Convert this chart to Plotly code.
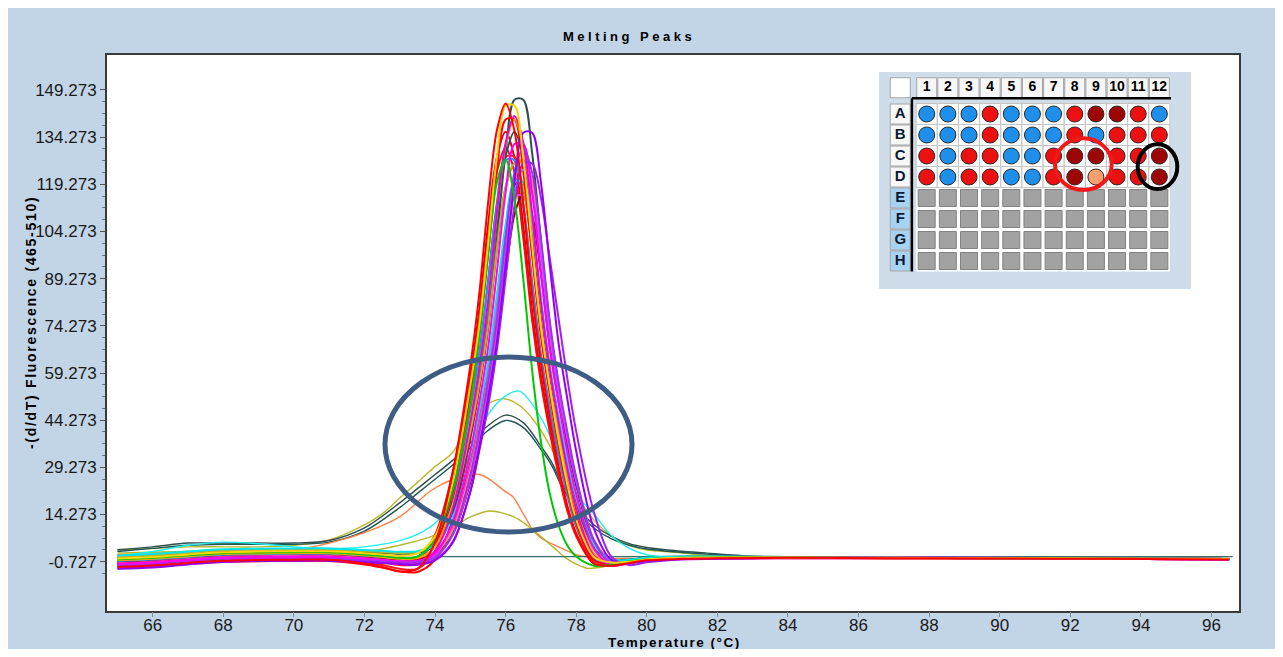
import plotly.graph_objects as go

# ---------------------------------------------------------------- data
TEMP_GRID = [65, 66, 67, 68, 69, 70, 71, 72, 72.5, 73, 73.5, 74, 74.5, 75, 75.25, 75.5,
             75.75, 76, 76.25, 76.5, 76.75, 77, 77.25, 77.5, 77.75, 78, 78.5, 79, 79.5,
             80, 81, 82, 84, 87, 90, 93, 96.5]

red_1 = [-2.4, -1.9, -1.1, -0.4, -0.2, -0.1, -0.1, -1.3, -2.4, -3.8, -3.0, 5.4, 27.6, 61.7, 84.1, 113.1, 136.3, 145.0, 136.3, 113.1, 84.1, 62.4, 45.0, 29.7, 17.1, 8.3, -1.3, -2.0, -1.1, -0.3, 0.2, 0.4, 0.5, 0.4, 0.3, 0.2, 0.0]
red_2 = [-1.5, -1.0, -0.2, 0.5, 0.7, 0.8, 0.8, -0.1, -0.9, -1.8, -1.4, 4.4, 21.8, 52.4, 71.0, 96.6, 123.5, 139.9, 139.9, 123.5, 96.6, 71.0, 52.5, 36.2, 22.4, 11.8, -0.2, -1.7, -1.0, -0.3, 0.3, 0.5, 0.6, 0.5, 0.4, 0.3, 0.1]
red_3 = [-0.8, -0.3, 0.5, 1.2, 1.4, 1.5, 1.5, 0.7, 0.1, -0.7, 0.5, 7.8, 27.7, 58.5, 78.9, 106.1, 127.8, 136.0, 127.8, 106.1, 78.9, 58.5, 42.2, 27.9, 16.0, 7.7, -1.2, -1.9, -1.0, -0.3, 0.4, 0.6, 0.7, 0.5, 0.4, 0.3, 0.1]
red_4 = [-2.0, -1.5, -0.7, 0.0, 0.2, 0.3, 0.3, -0.8, -1.8, -3.0, -3.0, 2.7, 19.2, 47.7, 65.0, 88.4, 113.1, 128.0, 128.0, 113.1, 88.4, 65.0, 48.1, 33.2, 20.4, 10.5, -0.9, -2.1, -1.2, -0.35, 0.2, 0.4, 0.5, 0.4, 0.3, 0.2, 0.0]
red_5 = [-2.0, -1.6, -1.2, -0.8, -0.6, -0.5, -0.5, -1.6, -2.6, -3.8, -4.0, -0.1, 12.9, 38.3, 53.9, 72.9, 98.2, 118.3, 125.9, 118.3, 98.2, 73.0, 54.1, 39.0, 25.4, 13.9, 0.3, -1.8, -1.2, -0.35, 0.2, 0.3, 0.4, 0.4, 0.3, 0.2, 0.0]
red_6 = [-1.0, -0.5, 0.3, 1.0, 1.2, 1.3, 1.3, 0.4, -0.35, -1.25, -0.3, 7.1, 26.6, 56.1, 76.0, 102.2, 123.1, 131.0, 123.1, 102.2, 76.0, 56.3, 40.6, 26.9, 15.4, 7.4, -1.3, -1.9, -1.0, -0.3, 0.3, 0.5, 0.6, 0.5, 0.4, 0.3, 0.1]
darkred_1 = [-1.0, -0.5, 0.3, 1.0, 1.2, 1.3, 1.3, 0.7, 0.3, -0.1, 0.0, 2.1, 11.1, 30.9, 44.8, 60.5, 82.3, 105.3, 119.2, 119.2, 105.3, 82.3, 60.5, 44.8, 30.9, 18.9, 3.4, -1.4, -1.1, -0.4, 0.3, 0.5, 0.6, 0.5, 0.4, 0.3, 0.1]
maroon_1 = [-0.8, -0.3, 0.5, 1.2, 1.4, 1.5, 1.5, 1.0, 0.75, 0.45, 0.4, 1.7, 8.0, 24.5, 36.7, 50.6, 68.0, 91.2, 109.6, 116.6, 109.5, 91.0, 67.8, 50.3, 36.4, 23.6, 5.8, -0.8, -0.75, -0.2, 0.4, 0.5, 0.6, 0.5, 0.4, 0.3, 0.1]
teal_1 = [0.5, 1.0, 1.8, 2.5, 2.7, 2.8, 2.8, 2.3, 2.05, 1.75, 2.0, 4.4, 15.0, 39.5, 56.2, 75.2, 101.6, 129.4, 146.2, 146.2, 129.3, 101.3, 74.7, 55.5, 38.5, 24.0, 5.8, 0.0, -0.1, 0.5, 0.8, 0.8, 0.7, 0.6, 0.5, 0.3, 0.1]
slate_1 = [1.0, 1.5, 2.3, 3.0, 3.2, 3.3, 3.3, 2.7, 2.3, 1.9, 2.2, 5.6, 18.2, 43.9, 60.0, 80.0, 106.7, 128.1, 136.0, 127.9, 106.3, 79.4, 59.2, 43.0, 28.9, 17.0, 3.5, -0.3, -0.2, 0.5, 0.9, 0.9, 0.8, 0.6, 0.5, 0.3, 0.1]
gold_1 = [0.3, 0.8, 1.6, 2.3, 2.5, 2.6, 2.6, 2.0, 1.6, 1.2, 1.9, 7.4, 24.6, 55.4, 74.2, 100.2, 127.8, 144.3, 144.3, 127.6, 99.9, 73.7, 54.8, 38.0, 23.8, 12.7, 0.8, -1.0, -0.7, 0.0, 0.5, 0.6, 0.6, 0.5, 0.4, 0.3, 0.1]
orange_1 = [-0.3, 0.2, 1.0, 1.7, 1.9, 2.0, 2.0, 1.3, 0.8, 0.2, 0.4, 4.1, 17.3, 44.1, 60.9, 81.6, 109.4, 131.6, 139.9, 131.5, 109.1, 81.2, 60.3, 43.5, 28.6, 16.1, 1.9, -1.0, -0.8, -0.1, 0.4, 0.5, 0.5, 0.4, 0.3, 0.2, 0.0]
purple_1 = [-3.0, -2.6, -1.6, -0.8, -0.5, -0.4, -0.4, -0.9, -1.15, -1.45, -1.7, -0.3, 5.3, 21.6, 34.9, 50.9, 68.8, 93.6, 119.9, 135.7, 135.7, 119.9, 93.6, 68.8, 50.9, 34.4, 9.9, -0.2, -0.9, -0.5, 0.1, 0.4, 0.6, 0.6, 0.5, 0.3, 0.1]
purple_2 = [-2.2, -1.7, -0.9, -0.2, 0.0, 0.1, 0.1, -0.4, -0.65, -0.95, -0.8, 0.7, 8.0, 26.8, 40.5, 56.2, 75.9, 102.1, 123.0, 130.9, 123.0, 102.1, 75.9, 56.2, 40.5, 26.2, 6.0, -1.3, -1.1, -0.45, 0.1, 0.3, 0.5, 0.5, 0.4, 0.2, 0.0]
purple_3 = [-2.8, -2.3, -1.4, -0.6, -0.3, -0.2, -0.2, -0.7, -0.95, -1.25, -1.5, 0.0, 5.6, 21.5, 34.4, 48.4, 66.4, 89.4, 112.4, 125.9, 125.9, 115.0, 95.8, 76.6, 57.4, 40.7, 15.1, 0.8, -1.8, -0.9, 0.0, 0.2, 0.5, 0.6, 0.5, 0.3, 0.1]
violet_1 = [-1.9, -1.4, -0.6, 0.1, 0.3, 0.4, 0.4, -0.1, -0.35, -0.65, -0.5, 0.9, 7.8, 25.4, 38.4, 53.3, 71.9, 96.7, 116.6, 124.0, 116.6, 96.7, 71.9, 53.3, 38.4, 24.9, 6.1, -0.9, -0.85, -0.35, 0.2, 0.4, 0.5, 0.5, 0.4, 0.2, 0.0]
magenta_1 = [-1.5, -1.0, -0.2, 0.5, 0.7, 0.8, 0.8, 0.2, -0.2, -0.6, -0.5, 1.9, 11.8, 34.3, 49.7, 67.1, 91.2, 116.7, 132.1, 132.1, 116.7, 91.2, 67.1, 49.7, 34.2, 20.8, 3.6, -1.8, -1.2, -0.45, 0.2, 0.4, 0.5, 0.5, 0.4, 0.2, 0.0]
magenta_2 = [-2.0, -1.5, -0.7, 0.0, 0.2, 0.3, 0.3, -0.4, -0.9, -1.5, -1.2, 2.6, 16.1, 43.5, 60.6, 81.8, 110.0, 132.5, 141.0, 132.5, 110.0, 81.8, 60.6, 43.7, 28.6, 15.9, 1.2, -1.5, -1.05, -0.3, 0.2, 0.3, 0.4, 0.4, 0.3, 0.2, 0.0]
pink_1 = [-1.2, -0.7, 0.1, 0.8, 1.0, 1.1, 1.1, 0.4, -0.1, -0.7, -0.7, 1.4, 10.3, 30.1, 43.6, 58.8, 79.9, 102.1, 115.5, 115.4, 102.0, 79.8, 58.7, 43.5, 30.0, 18.4, 3.4, -1.3, -1.0, -0.35, 0.3, 0.4, 0.5, 0.5, 0.4, 0.2, 0.0]
blue_1 = [-0.5, 0.0, 0.8, 1.5, 1.7, 1.8, 1.8, 1.2, 0.8, 0.4, 0.9, 5.9, 21.1, 48.3, 64.9, 87.9, 112.3, 127.0, 127.0, 112.2, 87.7, 64.6, 47.9, 33.0, 20.6, 10.9, 0.3, -1.3, -0.85, -0.2, 0.4, 0.6, 0.6, 0.5, 0.4, 0.3, 0.1]
green_1 = [0.0, 0.5, 1.3, 2.0, 2.2, 2.3, 2.3, 1.6, 1.1, 0.5, 0.9, 6.5, 22.3, 49.2, 70.6, 97.0, 119.8, 127.2, 114.6, 89.2, 60.2, 37.5, 21.0, 10.8, 4.4, 0.9, -2.0, -1.6, -0.6, 0.0, 0.5, 0.6, 0.6, 0.5, 0.4, 0.3, 0.1]
cyan_1 = [1.2, 1.7, 2.5, 3.2, 3.4, 3.5, 3.5, 3.0, 2.75, 2.45, 2.6, 4.6, 13.3, 33.3, 46.9, 62.3, 83.8, 106.5, 120.1, 120.0, 106.1, 83.2, 61.5, 45.8, 31.9, 20.0, 4.8, -0.1, -0.1, 0.5, 0.9, 0.9, 0.8, 0.6, 0.5, 0.3, 0.1]
salmon_1 = [-0.2, 0.3, 1.1, 1.8, 2.0, 2.1, 2.1, 1.5, 1.1, 0.7, 0.7, 2.2, 9.3, 27.3, 40.7, 55.8, 74.8, 100.1, 120.3, 127.8, 120.1, 99.7, 74.2, 55.0, 39.7, 25.7, 6.4, -0.7, -0.8, -0.2, 0.4, 0.5, 0.6, 0.5, 0.4, 0.3, 0.1]
olive_1 = [0.8, 1.3, 2.1, 2.8, 3.0, 3.1, 3.1, 2.6, 2.35, 2.05, 2.4, 5.5, 17.0, 40.7, 55.5, 74.0, 98.7, 118.5, 125.8, 118.3, 98.3, 73.4, 54.7, 39.7, 26.6, 15.6, 3.0, -0.5, -0.3, 0.4, 0.8, 0.8, 0.7, 0.6, 0.5, 0.3, 0.1]

# low-amplitude wells (each sampled at its own temperatures)
cyan_low_t = [65, 66, 67, 68, 69, 70, 71, 72, 73, 73.5, 74, 74.5, 75, 75.5, 76, 76.4, 77, 77.5, 77.75, 78, 78.5, 79, 79.5, 80, 81, 82, 84, 88, 94.7]
cyan_low = [1.0, 2.5, 4.5, 5.5, 5.0, 4.0, 3.5, 4.0, 6.0, 8.0, 11.5, 19.0, 34.0, 46.0, 52.0, 53.5, 45.0, 33.0, 26.0, 20.5, 14.5, 7.5, 3.5, 1.5, 0.6, 0.5, 0.5, 0.4, 0.3]
olive_low_t = [65, 66, 67, 68, 69, 70, 71, 72, 72.5, 73, 73.5, 74, 74.5, 75, 75.5, 76, 76.5, 77, 77.5, 78, 78.5, 79, 79.5, 80, 80.5, 81, 82, 84, 90, 96.5]
olive_low = [3.0, 3.5, 4.0, 4.0, 4.0, 4.5, 6.2, 11.0, 14.5, 19.5, 24.5, 29.5, 34.0, 44.0, 49.5, 51.0, 48.0, 41.0, 31.0, 20.5, 12.5, 7.5, 4.5, 3.0, 2.5, 2.0, 1.0, 0.5, 0.3, 0.2]
teal_low_t = [65, 66, 67, 68, 69, 70, 71, 72, 73, 73.5, 74, 74.5, 75, 75.5, 76, 76.5, 77, 77.3, 77.6, 78, 78.5, 79, 79.5, 80, 80.6, 81.7, 83, 85, 96.5]
teal_low_a = [3.1, 4.0, 5.2, 5.2, 5.2, 5.2, 6.0, 10.0, 18.0, 22.5, 27.0, 31.5, 37.0, 42.5, 45.9, 43.5, 36.0, 31.0, 24.0, 17.0, 11.0, 7.3, 5.0, 3.8, 3.0, 2.0, 1.0, 0.5, 0.3]
teal_low_b = [2.5, 3.5, 4.5, 4.8, 4.8, 4.8, 5.5, 9.0, 16.5, 21.0, 25.5, 30.0, 35.5, 41.0, 44.2, 42.0, 35.0, 30.0, 23.0, 16.0, 10.0, 6.5, 4.5, 3.3, 2.6, 1.7, 0.8, 0.4, 0.2]
orange_low_t = [65, 66, 67, 68, 69, 70, 71, 72, 73, 73.9, 74.5, 75, 75.25, 75.5, 76, 76.2, 76.5, 76.77, 77, 77.5, 78, 78.5, 79, 80, 82, 90, 95.4]
orange_low = [1.5, 2.0, 2.5, 2.5, 2.5, 3.0, 5.2, 8.5, 13.6, 22.0, 25.5, 27.0, 27.0, 25.8, 21.5, 20.0, 14.5, 9.4, 6.8, 4.0, 1.5, 0.5, 0.3, 0.3, 0.4, 0.4, 0.3]
smallolive_low_t = [65, 67, 69, 71, 72, 73, 73.9, 74.67, 75, 75.53, 76, 76.39, 76.77, 77.34, 77.7, 78, 78.3, 78.7, 79.2, 80, 82, 96.5]
smallolive_low = [2.0, 2.5, 2.5, 2.0, 2.5, 4.5, 7.3, 11.5, 13.5, 15.4, 14.5, 12.6, 9.4, 4.0, 0.5, -1.5, -2.8, -2.5, -1.0, 0.2, 0.4, 0.2]
flat_t = [73.9, 96.6]
flat_v = [0.9, 0.9]

# axis ticks
X_TICKS = [66, 68, 70, 72, 74, 76, 78, 80, 82, 84, 86, 88, 90, 92, 94, 96]
Y_TICKS = [-0.727, 14.273, 29.273, 44.273, 59.273, 74.273, 89.273, 104.273, 119.273, 134.273, 149.273]

# 96-well plate status (rows A-D used; E-H empty)
PLATE_COLS = ["1", "2", "3", "4", "5", "6", "7", "8", "9", "10", "11", "12"]
PLATE_ROWS = ["A", "B", "C", "D", "E", "F", "G", "H"]
ROW_A = ["b", "b", "b", "r", "b", "b", "b", "r", "d", "d", "r", "b"]
ROW_B = ["b", "b", "b", "r", "b", "b", "b", "r", "b", "r", "r", "r"]
ROW_C = ["r", "b", "r", "r", "b", "b", "r", "d", "d", "r", "r", "d"]
ROW_D = ["r", "b", "r", "r", "b", "b", "r", "d", "o", "r", "r", "d"]
WELL_COLORS = {"b": "#1E8FEA", "r": "#EC1010", "d": "#9E0606", "o": "#F5A06E"}

# ---------------------------------------------------------------- geometry
FIG_W, FIG_H = 1267, 641
BODY = 8
PLOT_L, PLOT_R, PLOT_T, PLOT_B = 107, 1239, 55, 611   # page pixels of plot frame
X_RANGE = [64.705, 96.78]
Y_RANGE = [-16.40, 160.40]


def paper_x(p):
    return (p - PLOT_L) / (PLOT_R - PLOT_L)


def paper_y(p):
    return (PLOT_B - p) / (PLOT_B - PLOT_T)


BG = "#C2D5E6"
TICK_FONT = dict(family="Liberation Sans Narrow, Arial Narrow, Liberation Sans, sans-serif", size=17, color="#1a1a1a")
BOLD_FAMILY = "Liberation Sans, Arial, sans-serif"

fig = go.Figure()

# low curves first (partly hidden by the main cluster)
LOW = [
    (olive_low_t, olive_low, "#B9B92F"),
    (teal_low_t, teal_low_a, "#2F4F4F"),
    (teal_low_t, teal_low_b, "#1E5555"),
    (orange_low_t, orange_low, "#FF7F45"),
    (smallolive_low_t, smallolive_low, "#B5B52A"),
    (cyan_low_t, cyan_low, "#1EEFF0"),
    (flat_t, flat_v, "#3F6E6E"),
]
for xs, ys, col in LOW:
    fig.add_trace(go.Scatter(x=xs, y=ys, mode="lines", hoverinfo="skip", showlegend=False,
                             line=dict(color=col, width=1.4, shape="spline", smoothing=0.9)))

MAIN = [
    (red_3, "#E00000"), (red_6, "#F01010"), (red_4, "#FF1A1A"), (red_5, "#FF0000"),
    (maroon_1, "#8B0000"), (darkred_1, "#A80000"), (pink_1, "#FF3CB4"),
    (teal_1, "#2F4F4F"), (slate_1, "#1F5A5A"), (salmon_1, "#FF8C5A"), (olive_1, "#B4B432"),
    (blue_1, "#1E90FF"), (cyan_1, "#00E5EE"), (red_2, "#FF0000"), (orange_1, "#FFA500"),
    (violet_1, "#C050FF"), (magenta_1, "#FF00FF"), (magenta_2, "#E600E6"), (purple_2, "#A030F0"),
    (purple_3, "#A020F0"), (purple_1, "#9400F5"), (green_1, "#00C800"), (gold_1, "#FFD400"),
    (red_1, "#FF0000"),
]
for ys, col in MAIN:
    fig.add_trace(go.Scatter(x=TEMP_GRID, y=ys, mode="lines", hoverinfo="skip", showlegend=False,
                             line=dict(color=col, width=2, shape="spline", smoothing=0.9)))

# carrier trace for the tick-mark axis (invisible)
fig.add_trace(go.Scatter(x=[X_TICKS[0]], y=[Y_TICKS[0]], xaxis="x3", yaxis="y", mode="markers",
                         marker=dict(size=1, opacity=0), hoverinfo="skip", showlegend=False))

# ---------------------------------------------------------------- plate inset (x2/y2: column / row units)
INSET_X = [-1.2553, 13.4965]
INSET_Y = [9.3333, -1.0]
HEAD_R = -0.25
LAB_C = -0.25
used_rows = [ROW_A, ROW_B, ROW_C, ROW_D]

cell_x, cell_y = [], []
empty_x, empty_y = [], []
for ri, rname in enumerate(PLATE_ROWS):
    for ci in range(len(PLATE_COLS)):
        if ri < len(used_rows):
            cell_x.append(ci + 1)
            cell_y.append(ri + 1)
        else:
            empty_x.append(ci + 1)
            empty_y.append(ri + 1)

fig.add_trace(go.Scatter(x=cell_x, y=cell_y, xaxis="x2", yaxis="y2", mode="markers", hoverinfo="skip",
                         showlegend=False,
                         marker=dict(symbol="square", size=21, color="#FFFFFF", line=dict(color="#C4C4C4", width=1))))
fig.add_trace(go.Scatter(x=empty_x, y=empty_y, xaxis="x2", yaxis="y2", mode="markers", hoverinfo="skip",
                         showlegend=False,
                         marker=dict(symbol="square", size=17, color="#A2A2A2", line=dict(color="#838383", width=1))))
# header cells
fig.add_trace(go.Scatter(x=list(range(1, 13)), y=[HEAD_R] * 12, xaxis="x2", yaxis="y2", mode="markers+text",
                         text=PLATE_COLS, textposition="middle center", hoverinfo="skip", showlegend=False,
                         textfont=dict(family=BOLD_FAMILY, size=14, color="#000000", weight="bold"),
                         marker=dict(symbol="square", size=20, color="#F7F7F7", line=dict(color="#A5A5A5", width=1))))
fig.add_trace(go.Scatter(x=[LAB_C], y=[HEAD_R], xaxis="x2", yaxis="y2", mode="markers", hoverinfo="skip",
                         showlegend=False,
                         marker=dict(symbol="square", size=20, color="#FFFFFF", line=dict(color="#A5A5A5", width=1))))
fig.add_trace(go.Scatter(x=[LAB_C] * 8, y=list(range(1, 9)), xaxis="x2", yaxis="y2", mode="markers+text",
                         text=PLATE_ROWS, textposition="middle center", hoverinfo="skip", showlegend=False,
                         textfont=dict(family=BOLD_FAMILY, size=15, color="#0A1A33", weight="bold"),
                         marker=dict(symbol="square", size=20,
                                     color=["#F7F7F7"] * 4 + ["#A8D2F2"] * 4,
                                     line=dict(color="#A5A5A5", width=1))))
for code, col in WELL_COLORS.items():
    wx, wy = [], []
    for ri, row in enumerate(used_rows):
        for ci, v in enumerate(row):
            if v == code:
                wx.append(ci + 1)
                wy.append(ri + 1)
    fig.add_trace(go.Scatter(x=wx, y=wy, xaxis="x2", yaxis="y2", mode="markers", hoverinfo="skip",
                             showlegend=False,
                             marker=dict(symbol="circle", size=16, color=col, line=dict(color="#2A2A2A", width=1))))

shapes = [
    # inset background (drawn in the inset's own layer)
    dict(type="rect", xref="x2", yref="y2", x0=INSET_X[0], x1=INSET_X[1], y0=INSET_Y[1], y1=INSET_Y[0],
         fillcolor="#CFDDEB", line=dict(width=0), layer="below"),
    dict(type="rect", xref="x2", yref="y2", x0=0.5, x1=12.5, y0=4.5, y1=8.5,
         fillcolor="#FFFFFF", line=dict(width=0), layer="below"),
    # thick L separator
    dict(type="line", xref="x2", yref="y2", x0=0.3, x1=12.55, y0=0.25, y1=0.25,
         line=dict(color="#000000", width=2.5)),
    dict(type="line", xref="x2", yref="y2", x0=0.3, x1=0.3, y0=0.25, y1=8.5,
         line=dict(color="#000000", width=2.5)),
    # annotation ellipses
    dict(type="circle", xref="paper", yref="paper", x0=paper_x(385), x1=paper_x(632),
         y0=paper_y(532), y1=paper_y(357), line=dict(color="#3E5C84", width=5)),
    dict(type="circle", xref="paper", yref="paper", x0=paper_x(1055), x1=paper_x(1111.7),
         y0=paper_y(190), y1=paper_y(138.3), line=dict(color="#F01818", width=4)),
    dict(type="circle", xref="paper", yref="paper", x0=paper_x(1137.7), x1=paper_x(1177.3),
         y0=paper_y(189), y1=paper_y(144.3), line=dict(color="#000000", width=4)),
]

annotations = [
    dict(text='<b><span style="letter-spacing:3.5px">Melting Peaks</span></b>', xref="paper", yref="paper",
         x=paper_x(629), y=paper_y(36.5), xanchor="center", yanchor="middle", showarrow=False,
         font=dict(family=BOLD_FAMILY, size=13, color="#000000")),
    dict(text='<b><span style="letter-spacing:1.5px">Temperature (°C)</span></b>', xref="paper", yref="paper",
         x=paper_x(674), y=paper_y(642), xanchor="center", yanchor="middle", showarrow=False,
         font=dict(family=BOLD_FAMILY, size=13.5, color="#000000")),
    dict(text='<b><span style="letter-spacing:1.7px">-(d/dT) Fluorescence (465-510)</span></b>',
         xref="paper", yref="paper", x=paper_x(31), y=paper_y(323), xanchor="center", yanchor="middle",
         textangle=-90, showarrow=False, font=dict(family=BOLD_FAMILY, size=14, color="#000000")),
]

y_minor = [Y_TICKS[0] - 3.75] + [t + k * 3.75 for t in Y_TICKS[:-1] for k in (1, 2, 3)]

fig.update_layout(
    width=FIG_W, height=FIG_H, autosize=False,
    margin=dict(l=PLOT_L - BODY, r=FIG_W - (PLOT_R - BODY), t=PLOT_T - BODY, b=FIG_H - (PLOT_B - BODY), pad=0,
                autoexpand=False),
    paper_bgcolor=BG, plot_bgcolor="#FFFFFF",
    showlegend=False,
    xaxis=dict(range=X_RANGE, tickmode="array", tickvals=X_TICKS, ticktext=[str(v) for v in X_TICKS],
               ticks="", tickfont=TICK_FONT, ticklabelstandoff=-2,
               showline=True, mirror=True, linecolor="#3A3A3A", linewidth=2, showgrid=False,
               zeroline=False, fixedrange=True, automargin=False),
    # tick marks only (labels come from xaxis)
    xaxis3=dict(range=X_RANGE, overlaying="x", anchor="y", side="bottom", tickmode="array",
                tickvals=X_TICKS, showticklabels=False, ticks="outside", ticklen=5, tickwidth=1,
                tickcolor="#8C8C8C", showline=False, showgrid=False, zeroline=False, fixedrange=True,
                automargin=False),
    yaxis=dict(range=Y_RANGE, tickmode="array", tickvals=Y_TICKS,
               ticktext=[f"{v:.3f}" for v in Y_TICKS],
               ticks="outside", ticklen=5, tickwidth=1, tickcolor="#555555", tickfont=TICK_FONT,
               minor=dict(tickvals=y_minor, ticks="outside", ticklen=3, tickcolor="#777777"),
               showline=True, mirror=True, linecolor="#3A3A3A", linewidth=2, showgrid=False,
               zeroline=False, fixedrange=True, automargin=False),
    xaxis2=dict(domain=[paper_x(879), paper_x(1191)], range=INSET_X, visible=False, anchor="y2",
                fixedrange=True, automargin=False),
    yaxis2=dict(domain=[paper_y(289), paper_y(72)], range=INSET_Y, visible=False, anchor="x2",
                fixedrange=True, automargin=False),
    shapes=shapes,
    annotations=annotations,
)

fig.write_html("out.html")
